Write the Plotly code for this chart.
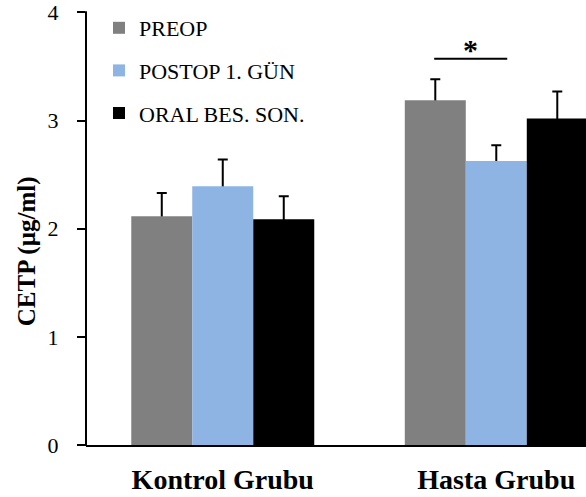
import plotly.graph_objects as go

categories = ["Kontrol Grubu", "Hasta Grubu"]
series_names = ["PREOP", "POSTOP 1. GÜN", "ORAL BES. SON."]
series_values = {
    "PREOP": [2.115, 3.187],
    "POSTOP 1. GÜN": [2.393, 2.626],
    "ORAL BES. SON.": [2.088, 3.018],
}
series_errors = {
    "PREOP": [0.215, 0.194],
    "POSTOP 1. GÜN": [0.247, 0.145],
    "ORAL BES. SON.": [0.212, 0.25],
}
colors = ["#808080", "#8DB4E2", "#000000"]
y_ticks = [0, 1, 2, 3, 4]
y_title = "CETP (µg/ml)"
sig_x = [0.773, 1.04]
sig_y = 3.572
sig_text = "*"

FONT = "Liberation Serif"
W, H = 586, 497
axis_px, bottom_px = 86, 445
px_per_unit = 108.25
y_top = 4.05
top_px = bottom_px - y_top * px_per_unit
plot_w = W - axis_px
plot_h = bottom_px - top_px
HIDDEN_LOWER = 0.03  # lower whisker tucked inside the bar (hidden by the bar)

fig = go.Figure()
# error bars first, real bars drawn on top so only the upper whisker shows
for i, name in enumerate(series_names):
    fig.add_trace(go.Bar(
        name=name, x=categories, y=series_values[name],
        marker=dict(color="rgba(0,0,0,0)", line=dict(width=0)),
        offsetgroup=str(i), showlegend=False, hoverinfo="skip",
        error_y=dict(type="data", symmetric=False, array=series_errors[name],
                     arrayminus=[HIDDEN_LOWER] * len(categories), color="black",
                     thickness=2, width=5),
    ))
for i, name in enumerate(series_names):
    fig.add_trace(go.Bar(
        name=name, x=categories, y=series_values[name],
        marker=dict(color=colors[i], line=dict(width=0)),
        offsetgroup=str(i), legendgroup=name,
    ))

# axis lines
fig.add_shape(type="line", xref="paper", yref="y", x0=0, x1=0,
              y0=y_ticks[0], y1=y_ticks[-1] + 0.01, line=dict(color="black", width=2))
fig.add_shape(type="line", xref="paper", yref="paper", x0=-9 / plot_w, x1=0,
              y0=0, y1=0, line=dict(color="black", width=2))
fig.add_shape(type="line", xref="x", yref="y", x0=sig_x[0], x1=sig_x[1],
              y0=sig_y, y1=sig_y, line=dict(color="black", width=2))
fig.add_annotation(x=sum(sig_x) / 2, y=sig_y, xref="x", yref="y",
                   text=sig_text, showarrow=False, yanchor="bottom",
                   font=dict(family=FONT, size=30, color="black", weight="bold"),
                   yshift=-9)
fig.add_annotation(x=(27 - axis_px) / plot_w, y=(bottom_px - 251) / plot_h,
                   xref="paper", yref="paper", text=y_title, textangle=-90,
                   showarrow=False, xanchor="center", yanchor="middle",
                   font=dict(family=FONT, size=25, color="black", weight="bold"))

fig.update_layout(
    width=W, height=H,
    margin=dict(l=axis_px, r=0, t=top_px, b=H - bottom_px, pad=0, autoexpand=False),
    plot_bgcolor="white", paper_bgcolor="white",
    barmode="group", bargap=0.331, bargroupgap=0,
    font=dict(family=FONT, color="black", size=20),
    showlegend=True,
    legend=dict(xref="container", yref="container", x=99 / W, y=1 - 7 / H,
                xanchor="left", yanchor="top",
                font=dict(family=FONT, size=22, color="black"),
                tracegroupgap=11, bgcolor="rgba(0,0,0,0)", itemclick=False),
    xaxis=dict(range=[-0.5, 1.328], showline=True, linecolor="black", linewidth=2,
               ticks="", showgrid=False, zeroline=False, tickangle=0, automargin=False,
               tickfont=dict(family=FONT, size=28, color="black", weight="bold"),
               ticklabelstandoff=8),
    yaxis=dict(range=[0, y_top], tickvals=y_ticks,
               showline=False, automargin=False,
               ticks="outside", ticklen=8, tickwidth=2, tickcolor="black",
               showgrid=False, zeroline=False, ticklabeloverflow="allow",
               tickfont=dict(family=FONT, size=22, color="black"),
               ticklabelstandoff=14),
    yaxis2=dict(range=[0, y_top], tickvals=y_ticks, overlaying="y", anchor="x",
                side="left", showline=False, automargin=False,
                ticks="inside", ticklen=8, tickwidth=2, tickcolor="black",
                showticklabels=False, showgrid=False, zeroline=False),
)

fig.write_html("out.html")
